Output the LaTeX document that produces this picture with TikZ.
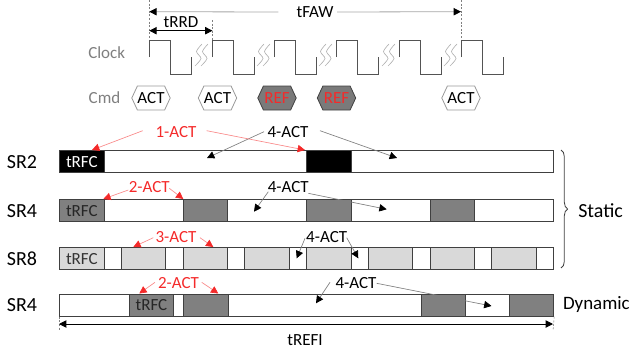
\documentclass[tikz,border=0pt]{standalone}
\usepackage{fontspec}
\setmainfont{Carlito}
\usetikzlibrary{arrows.meta,shapes.symbols,decorations.pathreplacing,calc}

\definecolor{actred}{HTML}{F42A2A}
\definecolor{refgray}{HTML}{7A7A7A}
\definecolor{lblgray}{HTML}{7F7F7F}
\definecolor{lightblk}{HTML}{D9D9D9}
\definecolor{darkblk}{HTML}{808080}
\definecolor{edgegray}{HTML}{404040}

\tikzset{
  rtip/.tip={Triangle[length=5.5pt,width=5.5pt,color=actred]},
  btip/.tip={Triangle[length=5.5pt,width=5.5pt,color=black]}
}

\begin{document}
\begin{tikzpicture}[x=0.75pt,y=-0.75pt,
  lbl/.style={font=\fontsize{15}{18}\selectfont, inner sep=0pt},
  txt/.style={font=\fontsize{12.75}{15}\selectfont, inner sep=0pt},
  redtxt/.style={txt, text=actred},
  graytxt/.style={txt, text=lblgray},
  rowbox/.style={draw=edgegray, line width=0.9pt, fill=white, anchor=north west,
    minimum width=370.5pt, minimum height=16.5pt, inner sep=0pt},
  blk/.style={draw=edgegray, line width=0.9pt, anchor=north west,
    minimum width=33.4pt, minimum height=16.5pt, inner sep=0pt, txt},
  hexcmd/.style={signal, signal to=west and east, signal pointer angle=130,
    minimum width=28.8pt, minimum height=18pt, inner sep=0pt, txt, line width=0.6pt},
  actcmd/.style={hexcmd, draw=gray!80, fill=white},
  refcmd/.style={hexcmd, draw=edgegray, fill=refgray, text=actred},
  clk/.style={draw=edgegray!90, line width=0.7pt},
  squig/.style={draw=gray!60, line width=0.5pt},
  guide/.style={draw=gray, line width=0.4pt, dash pattern=on 1.5pt off 1.2pt},
  redarr/.style={draw=actred!55, line width=0.5pt, -rtip},
  blkarr/.style={draw=gray, line width=0.5pt, -btip},
  dimarr/.style={draw=black, line width=0.7pt, btip-btip}
]
\useasboundingbox (0,0) rectangle (631,354);

% ---------- timing header ----------
\node[txt] (tfaw) at (315,12) {tFAW};
\coordinate (fawL) at (149.3,11.7);
\coordinate (fawR) at (461,11.7);
\draw[draw=gray!70, line width=0.6pt, btip-] (fawL) -- ([xshift=-13.5pt]tfaw.west);
\draw[draw=gray!70, line width=0.6pt, -btip] ([xshift=2.5pt]tfaw.east) -- (fawR);
\draw[guide] (149.3,0) -- (149.3,40.7);
\draw[guide] (461,0) -- (461,40.7);

\node[txt] (trrd) at (181,22.5) {tRRD};
\coordinate (rrdL) at (149.3,30.7);
\coordinate (rrdR) at (212.5,30.7);
\draw[dimarr] (rrdL) -- (rrdR);
\draw[guide] (212.5,20) -- (212.5,40.7);

% clock waveform with break marks
\node[graytxt] (clock) at (106.7,53) {Clock};
\foreach \x in {149.3,212.7,274,336.7,399,461.7}
  \draw[clk] (\x,57) -- (\x,40.7) -- ++(21,0) -- ++(0,33.3) -- ++(21,0) -- ++(0,-17.3);
\foreach \x in {195,257,319,382,444}{
  \draw[squig] plot[smooth] coordinates {(\x,66) ({\x+6},58.5) ({\x+1.5},51.5) ({\x+7},44)};
  \draw[squig] plot[smooth] coordinates {({\x+6},66) ({\x+12},58.5) ({\x+7.5},51.5) ({\x+13},44)};
}

% command bus
\node[graytxt] (cmd) at (104.5,98) {Cmd};
\node[actcmd] (c1) at (151,98) {ACT};
\node[actcmd] (c2) at (217.5,98) {ACT};
\node[refcmd] (c3) at (277,98) {REF};
\node[refcmd] (c4) at (336.5,98) {REF};
\node[actcmd] (c5) at (461,98) {ACT};

% ---------- SR2 ----------
\node[lbl] (l2) at (22,162) {SR2};
\node[rowbox] (r2) at (59,150) {};
\node[blk, fill=black, text=white] (r2t) at (59,150) {tRFC};
\node[blk, fill=black] (r2b) at (306,150) {};

% ---------- SR4 static ----------
\node[lbl] (l4) at (22,211) {SR4};
\node[rowbox] (r4) at (59,199) {};
\node[blk, fill=darkblk, text=black!85] (r4t) at (59,199) {tRFC};
\node[blk, fill=darkblk] (r4b) at (182.5,199) {};
\node[blk, fill=darkblk] (r4c) at (306,199) {};
\node[blk, fill=darkblk] (r4d) at (429.5,199) {};

% ---------- SR8 ----------
\node[lbl] (l8) at (22,259) {SR8};
\node[rowbox] (r8) at (59,247) {};
\node[blk, fill=lightblk, text=black!80] (r8t) at (59,247) {tRFC};
\foreach \x [count=\i] in {120.75,182.5,244.25,306,367.75,429.5,491.25}
  \node[blk, fill=lightblk] (r8b\i) at (\x,247) {};

% ---------- SR4 dynamic ----------
\node[lbl] (ld) at (22,305.5) {SR4};
\node[rowbox] (rd) at (59,293.5) {};
\node[blk, fill=darkblk, text=black!85] (rdt) at (128.6,293.5) {tRFC};
\node[blk, fill=darkblk] (rdb) at (183,293.5) {};
\node[blk, fill=darkblk] (rdc) at (420.7,293.5) {};
\node[blk, fill=darkblk] (rdd) at (508.5,293.5) {};

% ---------- activation windows ----------
\node[redtxt] (a21) at (176,132) {1-ACT};
\node[txt] (a24) at (288,132) {4-ACT};
\coordinate (p21a) at (142.7,130.7); \coordinate (q21a) at (92,150);
\coordinate (p21b) at (206.7,130.7); \coordinate (q21b) at (305,150);
\coordinate (p24a) at (264,131.7);   \coordinate (q24a) at (207,158);
\coordinate (p24b) at (320,130.7);   \coordinate (q24b) at (397,158);
\draw[blkarr] (p24a) -- (q24a);
\draw[blkarr] (p24b) -- (q24b);
\draw[redarr] (p21a) -- (q21a);
\draw[redarr] (p21b) -- (q21b);

\node[redtxt] (a42) at (149.3,187.5) {2-ACT};
\node[txt] (a44) at (288.3,187.5) {4-ACT};
\coordinate (p42a) at (128.3,190);   \coordinate (q42a) at (103.3,199);
\coordinate (p42b) at (169.3,188.3); \coordinate (q42b) at (183.3,199);
\coordinate (p44a) at (268.3,191.7); \coordinate (q44a) at (254,211.7);
\coordinate (p44b) at (308.3,193.3); \coordinate (q44b) at (386.7,209.3);
\draw[redarr] (p42a) -- (q42a);
\draw[redarr] (p42b) -- (q42b);
\draw[blkarr] (p44a) -- (q44a);
\draw[blkarr] (p44b) -- (q44b);

\node[redtxt] (a83) at (176,237.5) {3-ACT};
\node[txt] (a84) at (326.7,237.5) {4-ACT};
\coordinate (p83a) at (153.3,237.7); \coordinate (q83a) at (133.3,247);
\coordinate (p83b) at (200,237.7);   \coordinate (q83b) at (213.3,247);
\coordinate (p84a) at (305,238.3);   \coordinate (q84a) at (296.7,258.3);
\coordinate (p84b) at (346.7,237.7); \coordinate (q84b) at (358.3,258.3);
\draw[redarr] (p83a) -- (q83a);
\draw[redarr] (p83b) -- (q83b);
\draw[blkarr] (p84a) -- (q84a);
\draw[blkarr] (p84b) -- (q84b);

\node[redtxt] (ad2) at (178.5,283.5) {2-ACT};
\node[txt] (ad4) at (356,283.5) {4-ACT};
\coordinate (pd2a) at (155,282.3);   \coordinate (qd2a) at (139.3,293.5);
\coordinate (pd2b) at (201.7,282.3); \coordinate (qd2b) at (218.3,293.5);
\coordinate (pd4a) at (330,282.3);   \coordinate (qd4a) at (316,303.3);
\coordinate (pd4b) at (376.7,283.3); \coordinate (qd4b) at (491.5,306);
\draw[redarr] (pd2a) -- (qd2a);
\draw[redarr] (pd2b) -- (qd2b);
\draw[blkarr] (pd4a) -- (qd4a);
\draw[blkarr] (pd4b) -- (qd4b);

% ---------- static / dynamic grouping ----------
\coordinate (brT) at (561,150);
\coordinate (brB) at (561,268);
\draw[draw=edgegray, line width=0.6pt, decorate, decoration={brace, amplitude=5pt}] (brT) -- (brB);
\node[lbl, anchor=west] (static) at (578,210.5) {Static};
\node[lbl, anchor=east, font=\fontsize{14.2}{17}\selectfont] (dynamic) at (630,305) {Dynamic};

% ---------- refresh interval ----------
\coordinate (refL) at (59,324);
\coordinate (refR) at (553,324);
\draw[guide] (rd.south west) -- (59,331);
\draw[guide] (rd.south east) -- (553,331);
\draw[dimarr] (refL) -- (refR);
\node[txt] (trefi) at (305,340) {tREFI};
\end{tikzpicture}
\end{document}
